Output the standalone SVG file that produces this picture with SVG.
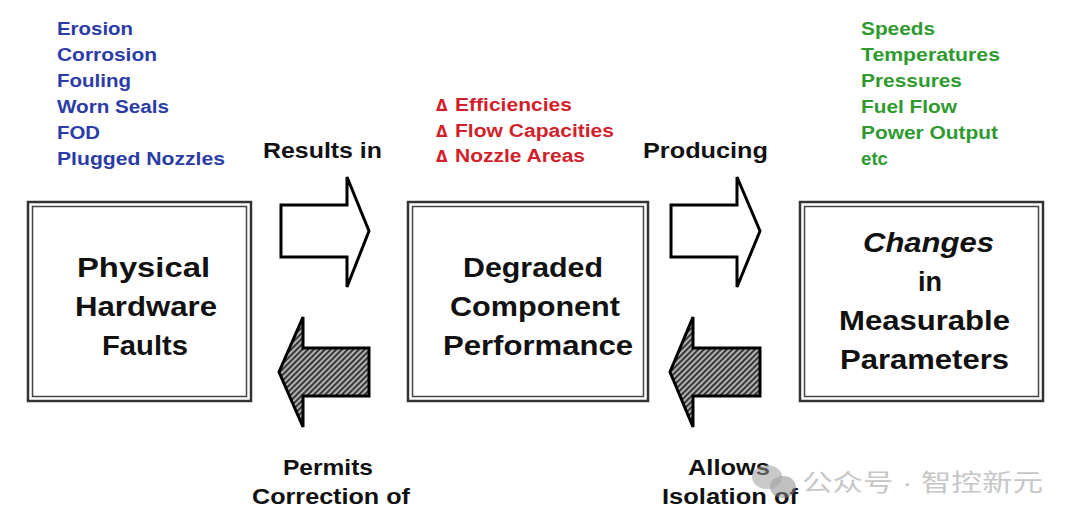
<svg xmlns="http://www.w3.org/2000/svg" width="1080" height="524" viewBox="0 0 1080 524">
<defs>
<style>
text{font-family:"Liberation Sans",Arial,sans-serif;font-weight:bold}
.blue{fill:#2b3ca8;font-size:18px}
.green{fill:#2f9a2f;font-size:18px}
.red{fill:#d21f2b;font-size:18px}
.delta{font-family:"DejaVu Sans","Liberation Sans",sans-serif;font-weight:bold;font-size:15px}
.lbl{fill:#111;font-size:22px}
.box-t{fill:#111;font-size:27px}
.outer{fill:#fff;stroke:#333;stroke-width:2.5}
.inner{fill:none;stroke:#444;stroke-width:1.5}
.hollow{fill:#fff;stroke:#000;stroke-width:3;stroke-linejoin:miter}
.hatched{fill:url(#hatch);stroke:#000;stroke-width:3;stroke-linejoin:miter}
.wm{fill:#b4b4b4;font-weight:normal;font-size:24px;font-family:"Liberation Sans","Noto Sans CJK SC",sans-serif}
</style>
<pattern id="hatch" patternUnits="userSpaceOnUse" width="4" height="4" patternTransform="rotate(45)">
<rect width="4" height="4" fill="#b0b0b0"/>
<rect width="1.8" height="4" fill="#2a2a2a"/>
</pattern>
</defs>
<rect width="1080" height="524" fill="#fff"/>

<g id="faults-list">
<text class="blue" x="57" y="35" textLength="76" lengthAdjust="spacingAndGlyphs">Erosion</text>
<text class="blue" x="57" y="61" textLength="100" lengthAdjust="spacingAndGlyphs">Corrosion</text>
<text class="blue" x="57" y="87" textLength="74" lengthAdjust="spacingAndGlyphs">Fouling</text>
<text class="blue" x="57" y="113" textLength="112" lengthAdjust="spacingAndGlyphs">Worn Seals</text>
<text class="blue" x="57" y="139" textLength="43" lengthAdjust="spacingAndGlyphs">FOD</text>
<text class="blue" x="57" y="165" textLength="168" lengthAdjust="spacingAndGlyphs">Plugged Nozzles</text>
</g>

<g id="delta-list">
<text class="red delta" x="436" y="111">Δ</text>
<text class="red" x="455" y="111" textLength="117" lengthAdjust="spacingAndGlyphs">Efficiencies</text>
<text class="red delta" x="436" y="137">Δ</text>
<text class="red" x="455" y="137" textLength="159" lengthAdjust="spacingAndGlyphs">Flow Capacities</text>
<text class="red delta" x="436" y="162">Δ</text>
<text class="red" x="455" y="162" textLength="130" lengthAdjust="spacingAndGlyphs">Nozzle Areas</text>
</g>

<g id="params-list">
<text class="green" x="861" y="35" textLength="74" lengthAdjust="spacingAndGlyphs">Speeds</text>
<text class="green" x="861" y="61" textLength="139" lengthAdjust="spacingAndGlyphs">Temperatures</text>
<text class="green" x="861" y="87" textLength="101" lengthAdjust="spacingAndGlyphs">Pressures</text>
<text class="green" x="861" y="113" textLength="96" lengthAdjust="spacingAndGlyphs">Fuel Flow</text>
<text class="green" x="861" y="139" textLength="137" lengthAdjust="spacingAndGlyphs">Power Output</text>
<text class="green" x="861" y="165" textLength="27" lengthAdjust="spacingAndGlyphs">etc</text>
</g>

<g id="node-faults">
<rect class="outer" x="28" y="202" width="223" height="199"/>
<rect class="inner" x="32.5" y="206.5" width="214" height="190"/>
<text class="box-t" x="77" y="277" textLength="133" lengthAdjust="spacingAndGlyphs">Physical</text>
<text class="box-t" x="75" y="316" textLength="142" lengthAdjust="spacingAndGlyphs">Hardware</text>
<text class="box-t" x="102" y="355" textLength="86" lengthAdjust="spacingAndGlyphs">Faults</text>
</g>

<g id="node-degraded">
<rect class="outer" x="408" y="202" width="240" height="199"/>
<rect class="inner" x="412.5" y="206.5" width="231" height="190"/>
<text class="box-t" x="463" y="277" textLength="140" lengthAdjust="spacingAndGlyphs">Degraded</text>
<text class="box-t" x="450" y="316" textLength="170" lengthAdjust="spacingAndGlyphs">Component</text>
<text class="box-t" x="443" y="355" textLength="190" lengthAdjust="spacingAndGlyphs">Performance</text>
</g>

<g id="node-changes">
<rect class="outer" x="800" y="202" width="243" height="199"/>
<rect class="inner" x="804.5" y="206.5" width="234" height="190"/>
<text class="box-t" x="863" y="252" font-style="italic" textLength="131" lengthAdjust="spacingAndGlyphs">Changes</text>
<text class="box-t" x="918" y="291" textLength="24" lengthAdjust="spacingAndGlyphs">in</text>
<text class="box-t" x="839" y="330" textLength="171" lengthAdjust="spacingAndGlyphs">Measurable</text>
<text class="box-t" x="840" y="369" textLength="169" lengthAdjust="spacingAndGlyphs">Parameters</text>
</g>

<g id="connectors">
<path class="hollow" d="M281,205 H347 V177 L369,231 L347,287 V257 H281 Z"/>
<path class="hollow" d="M671,205 H737 V177 L760,231 L737,287 V257 H671 Z"/>
<path class="hatched" d="M369,348 H303 V317 L279,372 L303,427 V396 H369 Z"/>
<path class="hatched" d="M760,348 H693 V317 L670,372 L693,427 V396 H760 Z"/>
<text class="lbl" x="263" y="158" textLength="119" lengthAdjust="spacingAndGlyphs">Results in</text>
<text class="lbl" x="643" y="158" textLength="125" lengthAdjust="spacingAndGlyphs">Producing</text>
<text class="lbl" x="283" y="475" textLength="90" lengthAdjust="spacingAndGlyphs">Permits</text>
<text class="lbl" x="252" y="504" textLength="158" lengthAdjust="spacingAndGlyphs">Correction of</text>
<text class="lbl" x="688" y="475" textLength="82" lengthAdjust="spacingAndGlyphs">Allows</text>
<text class="lbl" x="662" y="504" textLength="136" lengthAdjust="spacingAndGlyphs">Isolation of</text>
</g>

<g id="watermark" opacity="0.75">
<ellipse cx="767" cy="477" rx="15" ry="12" fill="#9a9a9a" opacity="0.7"/>
<ellipse cx="783" cy="487" rx="13" ry="11" fill="#888" opacity="0.7"/>
<text class="wm" x="802" y="491" textLength="241" lengthAdjust="spacingAndGlyphs">公众号 · 智控新元</text>
</g>
</svg>
